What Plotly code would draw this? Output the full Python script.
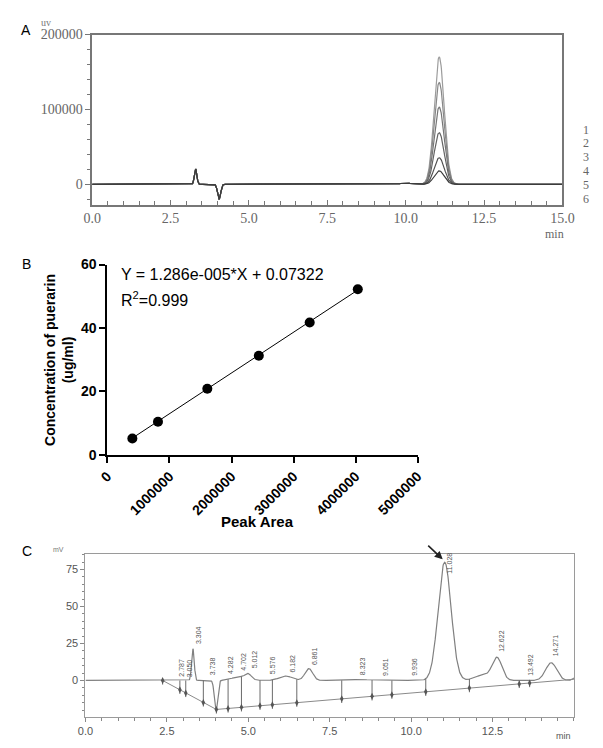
import numpy as np
import plotly.graph_objects as go

# ---------------- Panel A data (HPLC of standards, peak parameters)
a_series = ["1", "2", "3", "4", "5", "6"]
a_main_rt = 11.07
a_main_heights = [170000, 136000, 103000, 69000, 35500, 18000]
a_main_sigma = 0.16
a_minor_rt = [3.30, 4.05, 10.0]
a_minor_heights = [20400, -19500, 1500]
a_minor_sigma = [0.04, 0.05, 0.2]
a_colors = ["#9c9c9c", "#888888", "#767676", "#636363", "#505050", "#3c3c3c"]
a_yticks = [0, 100000, 200000]
a_xticks = [0, 2.5, 5, 7.5, 10, 12.5, 15]

# ---------------- Panel B data (calibration curve)
b_area = [402000, 815000, 1610000, 2440000, 3260000, 4035000]
b_conc = [5.1, 10.4, 20.8, 31.2, 41.7, 52.2]
b_slope = 1.286e-5
b_intercept = 0.07322
b_xticks = [0, 1000000, 2000000, 3000000, 4000000, 5000000]
b_yticks = [0, 20, 40, 60]

# ---------------- Panel C data (sample chromatogram)
c_peak_rt = [3.30, 4.01, 4.75, 5.00, 6.15, 6.86, 8.45, 11.03, 12.20, 12.64, 14.30, 15.05]
c_peak_h = [21.5, -20.5, 2.5, 3.2, 3.0, 8.0, 0.6, 80.0, 3.5, 15.0, 12.0, 2.0]
c_peak_sigma = [0.04, 0.05, 0.25, 0.09, 0.2, 0.12, 0.3, 0.2, 0.25, 0.15, 0.17, 0.08]
c_base_t = [2.37, 4.02, 15.0]
c_base_v = [0.0, -19.6, 0.8]
c_drop_t = [2.37, 2.90, 3.08, 3.62, 4.02, 4.38, 4.79, 5.36, 5.74, 6.49, 7.87, 8.80,
            9.41, 10.45, 11.79, 13.32, 13.64]
c_label_rt = [2.787, 3.050, 3.304, 3.738, 4.282, 4.702, 5.012, 5.576, 6.182, 6.861,
              8.323, 9.051, 9.936, 11.028, 12.622, 13.492, 14.271]
c_label_y = [1.0, 1.0, 23.0, 2.0, 3.3, 5.3, 7.0, 2.6, 4.2, 9.3, 2.2, 1.5, 1.5,
             70.6, 18.0, 2.0, 14.8]
c_xticks = [0, 2.5, 5, 7.5, 10, 12.5]
c_yticks = [0, 25, 50, 75]

W, H = 603, 748


def px(x):
    return x / W


def py(y):
    return 1 - y / H


def peaks(t, rts, hs, sig):
    out = np.zeros_like(t)
    for r, h, s in zip(rts, hs, sig):
        out += h * np.exp(-0.5 * ((t - r) / s) ** 2)
    return out


fig = go.Figure()

# ---- A traces
ta = np.linspace(0, 15, 1501)
for name, h, col in zip(a_series, a_main_heights, a_colors):
    ya = peaks(ta, a_minor_rt + [a_main_rt], a_minor_heights + [h], a_minor_sigma + [a_main_sigma])
    fig.add_trace(go.Scatter(x=ta, y=ya, mode="lines", name=name,
                             line=dict(color=col, width=1.2),
                             xaxis="x", yaxis="y", showlegend=False))

# ---- B traces
fit_x = [b_area[0], b_area[-1]]
fit_y = [b_slope * v + b_intercept for v in fit_x]
fig.add_trace(go.Scatter(x=fit_x, y=fit_y, mode="lines", line=dict(color="black", width=1),
                         xaxis="x2", yaxis="y2", showlegend=False))
fig.add_trace(go.Scatter(x=b_area, y=b_conc, mode="markers",
                         marker=dict(color="black", size=10),
                         xaxis="x2", yaxis="y2", showlegend=False, cliponaxis=False))

# ---- C traces
tc = np.linspace(0, 15, 1501)
yc = peaks(tc, c_peak_rt, c_peak_h, c_peak_sigma)
fig.add_trace(go.Scatter(x=tc, y=yc, mode="lines", line=dict(color="#808080", width=1.2),
                         xaxis="x3", yaxis="y3", showlegend=False))
fig.add_trace(go.Scatter(x=c_base_t, y=c_base_v, mode="lines",
                         line=dict(color="#8a8a8a", width=1),
                         xaxis="x3", yaxis="y3", showlegend=False))
drop_top = peaks(np.array(c_drop_t), c_peak_rt, c_peak_h, c_peak_sigma)
drop_base = np.interp(c_drop_t, c_base_t, c_base_v)
dx, dy = [], []
for t0, top, b in zip(c_drop_t, drop_top, drop_base):
    dx += [t0, t0, None]
    dy += [max(top, b), b - 2.8, None]
fig.add_trace(go.Scatter(x=dx, y=dy, mode="lines", line=dict(color="#6a6a6a", width=1),
                         xaxis="x3", yaxis="y3", showlegend=False))
fig.add_trace(go.Scatter(x=c_drop_t, y=drop_base, mode="markers",
                         marker=dict(symbol="diamond-tall", size=5, color="#555"),
                         xaxis="x3", yaxis="y3", showlegend=False))

serif_gray = dict(family="Liberation Serif", size=14, color="#666666")
arial_gray = dict(family="Liberation Sans", size=11, color="#555555")
bold = dict(family="Liberation Sans", size=14, color="black", weight="bold")

fig.update_layout(
    width=W, height=H, margin=dict(l=0, r=0, t=0, b=0),
    paper_bgcolor="white", plot_bgcolor="white",
    xaxis=dict(domain=[px(77), px(565)], anchor="y", range=[0, 15],
               showline=True, linecolor="#777", linewidth=1.5, mirror=True,
               showgrid=False, zeroline=False,
               tickvals=a_xticks, ticktext=[f"{v:.1f}" for v in a_xticks],
               ticks="inside", ticklen=5, tickcolor="#777", tickfont=serif_gray,
               minor=dict(dtick=0.5, ticks="inside", ticklen=4, tickcolor="#777")),
    yaxis=dict(domain=[py(193), py(19)], anchor="x", range=[-27500, 200000],
               showline=True, linecolor="#777", linewidth=1.5, mirror=True,
               showgrid=False, zeroline=False,
               tickvals=a_yticks, ticktext=[str(v) for v in a_yticks],
               ticks="outside", ticklen=5, tickcolor="#777", tickfont=serif_gray,
               minor=dict(dtick=20000, ticks="outside", ticklen=3, tickcolor="#777")),
    xaxis2=dict(domain=[px(92.8), px(414.8)], anchor="y2", range=[0, 5000000],
                showline=True, linecolor="black", linewidth=2, mirror=False,
                showgrid=False, zeroline=False,
                tickvals=b_xticks, ticktext=[str(v) for v in b_xticks], tickangle=-45,
                ticks="outside", ticklen=6, tickwidth=2, tickcolor="black", tickfont=bold),
    yaxis2=dict(domain=[py(448.3), py(254)], anchor="x2", range=[0, 60],
                showline=True, linecolor="black", linewidth=2,
                showgrid=False, zeroline=False,
                tickvals=b_yticks, ticktext=[str(v) for v in b_yticks],
                ticks="outside", ticklen=6, tickwidth=2, tickcolor="black", tickfont=bold),
    xaxis3=dict(domain=[px(70), px(577)], anchor="y3", range=[0, 15],
                showline=True, linecolor="#9a9a9a", linewidth=1.2, mirror=True,
                showgrid=False, zeroline=False,
                tickvals=c_xticks, ticktext=[f"{v:.1f}" for v in c_xticks],
                ticks="outside", ticklen=4, tickcolor="#888", tickfont=arial_gray,
                minor=dict(dtick=0.5, ticks="outside", ticklen=3, tickcolor="#888")),
    yaxis3=dict(domain=[py(716), py(550)], anchor="x3", range=[-24.5, 85.4],
                showline=True, linecolor="#9a9a9a", linewidth=1.2, mirror=True,
                showgrid=False, zeroline=False,
                tickvals=c_yticks, ticktext=[str(v) for v in c_yticks],
                ticks="outside", ticklen=4, tickcolor="#888", tickfont=arial_gray,
                minor=dict(dtick=5, ticks="outside", ticklen=2, tickcolor="#888")),
)

ann = []


def note(x, y, text, font, xanchor="center", yanchor="middle", **kw):
    ann.append(dict(x=px(x), y=py(y), xref="paper", yref="paper", text=text,
                    showarrow=False, font=font, xanchor=xanchor, yanchor=yanchor, **kw))


letter = dict(family="Liberation Sans", size=14, color="black")
note(8.5, 14, "A", letter)
note(9, 253, "B", letter)
note(9, 547, "C", letter)

# A extras
note(29, 7, "uv", dict(family="Liberation Serif", size=10, color="#777"))
note(557, 223, "min", dict(family="Liberation Serif", size=12, color="#666"))
for name, yy in zip(a_series, [116, 130, 144, 158, 173, 187]):
    note(590, yy, name, dict(family="Liberation Serif", size=12, color="#666"))

# B extras
note(105, 264, "Y = 1.286e-005*X + 0.07322",
     dict(family="Liberation Sans", size=16, color="black"), xanchor="left")
note(105, 289, "R<sup>2</sup>=0.999",
     dict(family="Liberation Sans", size=16, color="black"), xanchor="left")
note(43, 351, "Concentration of puerarin<br>(ug/ml)",
     dict(family="Liberation Sans", size=14, color="black", weight="bold"), textangle=-90)
note(249, 517, "Peak Area", dict(family="Liberation Sans", size=15, color="black", weight="bold"))

# C extras
note(42, 545, "mV", dict(family="Liberation Sans", size=7, color="#777"))
note(566, 736, "min", dict(family="Liberation Sans", size=9, color="#555"))
for rt, yv in zip(c_label_rt, c_label_y):
    ann.append(dict(x=rt, y=yv, xref="x3", yref="y3", text=f"{rt:.3f}",
                    showarrow=False, textangle=-90, xanchor="left", yanchor="bottom",
                    font=dict(family="Liberation Sans", size=7, color="#555")))
ann.append(dict(x=10.97, y=82, xref="x3", yref="y3", text="", showarrow=True,
                arrowhead=2, arrowsize=1, arrowwidth=1.6, arrowcolor="#222",
                ax=-16, ay=-15))

fig.update_layout(annotations=ann)
fig.write_html("out.html")
